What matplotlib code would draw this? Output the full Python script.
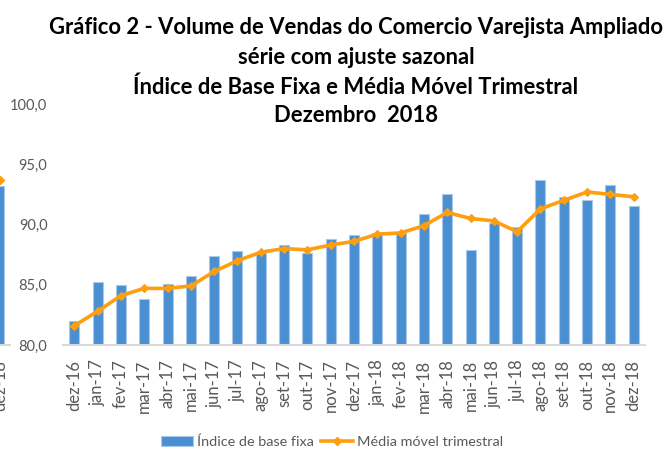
import matplotlib
matplotlib.use("Agg")
import matplotlib.pyplot as plt
from matplotlib.lines import Line2D
from matplotlib.patches import Patch

# ---- data ----
categories = ["dez-16", "jan-17", "fev-17", "mar-17", "abr-17", "mai-17", "jun-17",
              "jul-17", "ago-17", "set-17", "out-17", "nov-17", "dez-17", "jan-18",
              "fev-18", "mar-18", "abr-18", "mai-18", "jun-18", "jul-18", "ago-18",
              "set-18", "out-18", "nov-18", "dez-18"]
indice_base_fixa = [82.0, 85.2, 85.0, 83.8, 85.1, 85.7, 87.4, 87.8, 87.6, 88.3, 87.6,
                    88.8, 89.1, 89.3, 89.3, 90.9, 92.5, 87.9, 90.1, 89.8, 93.7, 92.3,
                    92.0, 93.3, 91.5]
media_movel = [81.6, 82.8, 84.1, 84.7, 84.7, 84.9, 86.1, 87.0, 87.7, 88.0, 87.9, 88.3,
               88.6, 89.2, 89.3, 89.9, 91.0, 90.5, 90.3, 89.4, 91.3, 92.0, 92.7, 92.5,
               92.3]
# cut-off strip at the left edge (tail of a previous copy of the chart)
strip_category = ["dez-18"]
strip_bar = [93.2]
strip_avg = [93.7]

yticks = [80, 85, 90, 95, 100]
ytick_labels = ["80,0", "85,0", "90,0", "95,0", "100,0"]

title_lines = ["Gráfico 2 - Volume de Vendas do Comercio Varejista Ampliado",
               "série com ajuste sazonal",
               "Índice de Base Fixa e Média Móvel Trimestral",
               "Dezembro  2018"]

BLUE = "#4A8FD2"
BLUE_EDGE = "#A9C9EA"
ORANGE = "#FF9E0F"
GRAY = "#595959"
AXIS = "#D9D9D9"

plt.rcParams["font.family"] = ["Lato", "DejaVu Sans"]

W, H = 666, 451
fig = plt.figure(figsize=(W / 100, H / 100), dpi=100)

x0, x1 = 62.7, 645.3
yb, yt = 345, 104
ax = fig.add_axes([x0 / W, 1 - yb / H, (x1 - x0) / W, (yb - yt) / H])

xs = list(range(len(categories)))
ax.bar(xs, [v - 80 for v in indice_base_fixa], bottom=80, width=0.43, color=BLUE,
       edgecolor=BLUE_EDGE, linewidth=0.8, zorder=2)
ax.plot(xs, media_movel, color=ORANGE, lw=2.6, marker="D", ms=4.5,
        markeredgewidth=0.8, zorder=3, solid_joinstyle="round")
ax.set_xlim(-0.5, len(categories) - 0.5)
ax.set_ylim(80, 100)
ax.set_yticks(yticks)
ax.set_yticklabels(ytick_labels)
ax.set_xticks(xs)
ax.set_xticklabels(categories, rotation=90)
ax.tick_params(axis="y", length=0, pad=11, labelsize=10.5, labelcolor=GRAY)
ax.tick_params(axis="x", length=0, pad=10.5, labelsize=12, labelcolor=GRAY)
for s in ["left", "right", "top"]:
    ax.spines[s].set_visible(False)
ax.spines["bottom"].set_color(AXIS)
ax.spines["bottom"].set_linewidth(1.5)

# left strip
sx1 = 10
ax2 = fig.add_axes([0, 1 - yb / H, sx1 / W, (yb - yt) / H])
ax2.bar([24], [strip_bar[0] - 80], bottom=80, width=0.43, color=BLUE,
        edgecolor=BLUE_EDGE, linewidth=0.8)
ax2.plot([24], strip_avg, color=ORANGE, marker="D", ms=4.5, clip_on=False)
ax2.set_xlim(24.08, 24.08 + sx1 / 23.3)
ax2.set_ylim(80, 100)
ax2.set_yticks([])
ax2.set_xticks([24])
ax2.set_xticklabels(strip_category, rotation=90)
ax2.tick_params(axis="x", length=0, pad=10.5, labelsize=12, labelcolor=GRAY)
for s in ["left", "right", "top"]:
    ax2.spines[s].set_visible(False)
ax2.spines["bottom"].set_color(AXIS)
ax2.spines["bottom"].set_linewidth(1.5)
ax2.patch.set_visible(False)

# title
ty = [27, 57, 87, 116]
for line, y in zip(title_lines, ty):
    fig.text(356 / W, 1 - y / H, line, ha="center", va="center", fontsize=15.8,
             fontweight="bold", color="black")

# legend
handles = [Patch(facecolor=BLUE, edgecolor=BLUE_EDGE, linewidth=0.8),
           Line2D([0], [0], color=ORANGE, lw=2.6, marker="D", ms=4)]
fig.legend(handles, ["Índice de base fixa", "Média móvel trimestral"],
           loc="center", bbox_to_anchor=(332 / W, 1 - 442 / H), ncol=2,
           frameon=False, fontsize=10.4, labelcolor=GRAY, handlelength=2.2,
           handletextpad=0.3, columnspacing=0.5)

fig.savefig("out.png", dpi=100)
